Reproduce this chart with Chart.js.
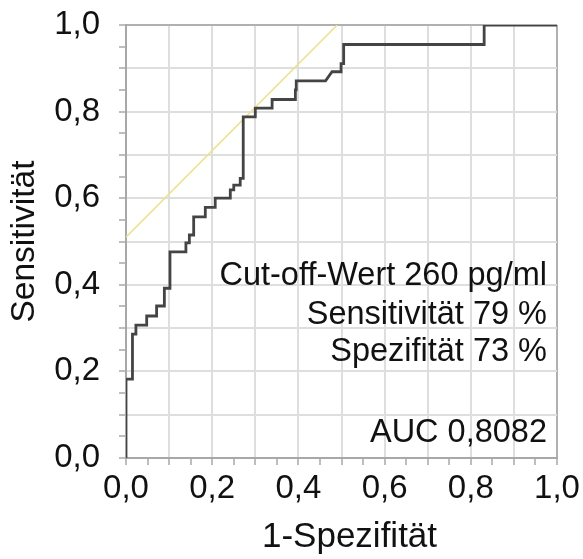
<!DOCTYPE html>
<html>
<head>
<meta charset="utf-8">
<script src="https://cdn.jsdelivr.net/npm/chart.js@4/dist/chart.umd.min.js"></script>
<style>
  html, body { margin: 0; padding: 0; background: #fff; }
  #wrap { width: 583px; height: 559px; }
</style>
</head>
<body>
<div id="wrap"><canvas id="c" width="583" height="559"></canvas></div>
<script>
// ROC curve vertices (1-Spezifität, Sensitivität)
const rocFpr = [0, 0, 0.015, 0.015, 0.023, 0.023, 0.048, 0.048, 0.071, 0.071, 0.089, 0.089,
  0.102, 0.102, 0.139, 0.139, 0.147, 0.147, 0.157, 0.157, 0.184, 0.184, 0.207, 0.207,
  0.242, 0.242, 0.250, 0.250, 0.265, 0.265, 0.272, 0.272, 0.300, 0.300, 0.339, 0.339,
  0.393, 0.393, 0.395, 0.395, 0.463, 0.478, 0.499, 0.499, 0.505, 0.505, 0.831, 0.831, 1.0];
const rocTpr = [0, 0.182, 0.182, 0.286, 0.286, 0.307, 0.307, 0.328, 0.328, 0.351, 0.351, 0.392,
  0.392, 0.476, 0.476, 0.497, 0.497, 0.515, 0.515, 0.557, 0.557, 0.579, 0.579, 0.600,
  0.600, 0.619, 0.619, 0.630, 0.630, 0.646, 0.646, 0.788, 0.788, 0.808, 0.808, 0.828,
  0.828, 0.850, 0.850, 0.871, 0.871, 0.892, 0.892, 0.911, 0.911, 0.955, 0.955, 1.0, 1.0];
// Tangent line at the cut-off point
const tangentX = [0, 0.49];
const tangentY = [0.51, 1.0];

const xTickLabels = ['0,0', '0,2', '0,4', '0,6', '0,8', '1,0'];
const yTickLabels = ['0,0', '0,2', '0,4', '0,6', '0,8', '1,0'];
const xTitle = '1-Spezifität';
const yTitle = 'Sensitivität';
const annotationLines = ['Cut-off-Wert 260 pg/ml', 'Sensitivität 79 %', 'Spezifität 73 %', 'AUC 0,8082'];
const annotationY = [0.40, 0.31, 0.223, 0.036]; // baseline levels in Sensitivität units

const FONT = '"Liberation Sans", Arial, sans-serif';
const rocPoints = rocFpr.map((x, i) => ({ x: x, y: rocTpr[i] }));
const tangentPoints = tangentX.map((x, i) => ({ x: x, y: tangentY[i] }));

function hundredths(v) { return Math.round(v * 100); }
function gridColor(ctx) {
  const h = hundredths(ctx.tick.value);
  if (h === 100) return '#b0b0b0';
  return h % 10 === 0 ? '#dedede' : 'rgba(0,0,0,0)';
}
function labelFor(list) {
  return function (v) {
    const h = hundredths(v);
    return h % 20 === 0 ? list[h / 20] : '';
  };
}

const annotationPlugin = {
  id: 'rocText',
  afterDatasetsDraw(chart) {
    const ctx = chart.ctx;
    const ys = chart.scales.y;
    const area = chart.chartArea;
    const right = area.right - 10;
    ctx.save();
    ctx.font = '32.5px ' + FONT;
    ctx.fillStyle = '#111';
    ctx.textAlign = 'right';
    ctx.textBaseline = 'alphabetic';
    annotationLines.forEach((t, i) => {
      ctx.fillText(t, right, ys.getPixelForValue(annotationY[i]));
    });
    // x axis title
    ctx.font = '35px ' + FONT;
    ctx.textAlign = 'center';
    ctx.textBaseline = 'middle';
    ctx.fillText(xTitle, (area.left + area.right) / 2 + 8, chart.height - 22);
    ctx.restore();
  }
};

new Chart(document.getElementById('c'), {
  type: 'line',
  data: {
    datasets: [
      {
        data: rocPoints,
        borderColor: '#444444',
        borderWidth: 2.8,
        pointRadius: 0,
        fill: false,
        tension: 0,
        order: 1
      },
      {
        data: tangentPoints,
        borderColor: '#ece38e',
        borderWidth: 1.6,
        pointRadius: 0,
        fill: false,
        tension: 0,
        order: 2
      }
    ]
  },
  options: {
    responsive: false,
    animation: false,
    events: [],
    layout: { padding: { top: 25, right: 26, left: 0, bottom: 0 } },
    plugins: { legend: { display: false }, tooltip: { enabled: false } },
    scales: {
      x: {
        type: 'linear',
        min: 0, max: 1,
        afterFit(s) { s.height = 101; s.paddingLeft = 0; s.paddingRight = 0; },
        ticks: {
          stepSize: 0.05,
          autoSkip: false,
          maxRotation: 0,
          padding: 4,
          color: '#111',
          font: { family: FONT, size: 33 },
          callback: labelFor(xTickLabels)
        },
        grid: {
          color: gridColor,
          lineWidth: 2,
          tickLength: 7,
          tickColor: '#a8a8a8',
          tickWidth: 1.5
        },
        border: { color: '#a8a8a8', width: 2 },
        title: { display: false }
      },
      y: {
        type: 'linear',
        min: 0, max: 1,
        afterFit(s) { s.width = 126; s.paddingTop = 0; s.paddingBottom = 0; },
        ticks: {
          stepSize: 0.05,
          autoSkip: false,
          padding: 19,
          color: '#111',
          font: { family: FONT, size: 33 },
          callback: labelFor(yTickLabels)
        },
        grid: {
          color: gridColor,
          lineWidth: 2,
          tickLength: 7,
          tickColor: '#a8a8a8',
          tickWidth: 1.5
        },
        border: { color: '#a8a8a8', width: 2 },
        title: {
          display: true,
          text: yTitle,
          color: '#111',
          font: { family: FONT, size: 33.5 },
          padding: { top: 5, bottom: 0 }
        }
      }
    }
  },
  plugins: [annotationPlugin]
});
</script>
</body>
</html>
